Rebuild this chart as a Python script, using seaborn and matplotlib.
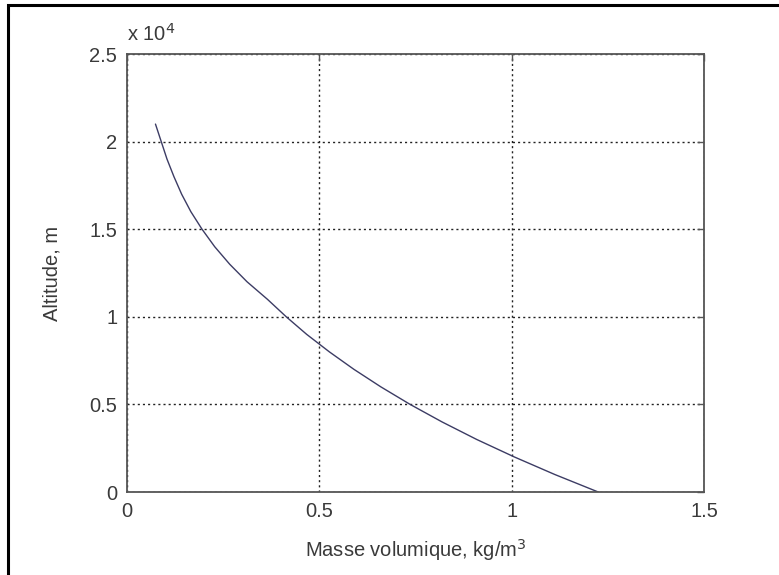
import matplotlib
matplotlib.use("Agg")
import matplotlib.pyplot as plt
from matplotlib.patches import Rectangle
from matplotlib.ticker import FuncFormatter
import numpy as np
import pandas as pd
import seaborn as sns

# altitude (m) and density (kg/m3)
altitude = [0, 1000, 2000, 3000, 4000, 5000, 6000, 7000, 8000, 9000, 10000,
            11000, 12000, 13000, 14000, 15000, 16000, 17000, 18000, 19000, 20000, 21000]
density = [1.225, 1.112, 1.007, 0.909, 0.819, 0.736, 0.660, 0.590, 0.526, 0.467, 0.414,
           0.365, 0.312, 0.267, 0.228, 0.195, 0.166, 0.142, 0.122, 0.104, 0.089, 0.074]

x_ticks = [0, 0.5, 1, 1.5]
y_ticks = [0, 5000, 10000, 15000, 20000, 25000]

sns.set_style("white")
plt.rcParams["font.family"] = ["Liberation Sans", "DejaVu Sans"]

txt = "#3a3a3a"
fs = 14.5

df = pd.DataFrame({"rho": density, "h": altitude})

fig = plt.figure(figsize=(7.79, 5.75), dpi=100)
ax = fig.add_axes([127 / 779, 83 / 575, 577 / 779, 438 / 575])

sns.lineplot(data=df, x="rho", y="h", sort=False, color="#3c3c64", linewidth=1.0, ax=ax)

ax.set_xlim(0, 1.5)
ax.set_ylim(0, 25000)
ax.set_xticks(x_ticks)
ax.set_yticks(y_ticks)
ax.xaxis.set_major_formatter(FuncFormatter(lambda v, p: f"{v:g}"))
ax.yaxis.set_major_formatter(FuncFormatter(lambda v, p: f"{v / 1e4:g}"))

# matlab-like dotted grid
ax.grid(True, color="#222222", linestyle=(0, (1.5, 2.2)), linewidth=1.0)
for s in ax.spines.values():
    s.set_color("#555555")
    s.set_linewidth(1.3)

ax.tick_params(direction="in", length=5, width=1, colors="#555555",
               labelcolor=txt, labelsize=fs, top=True, right=True, pad=7)

ax.set_xlabel("Masse volumique, kg/m$^3$", fontsize=fs, color=txt, labelpad=12)
ax.set_ylabel("Altitude, m", fontsize=fs, color=txt, labelpad=20)
ax.text(0, 1.02, "x 10$^4$", transform=ax.transAxes, fontsize=fs, color=txt,
        ha="left", va="bottom")

# frame around the picture (right and bottom edges fall outside)
fig.patches.append(Rectangle((8 / 779, -0.1), 1.2, (575 - 5) / 575 + 0.1,
                             transform=fig.transFigure, fill=False,
                             edgecolor="black", linewidth=2.2))

fig.savefig("out.png", dpi=100)
